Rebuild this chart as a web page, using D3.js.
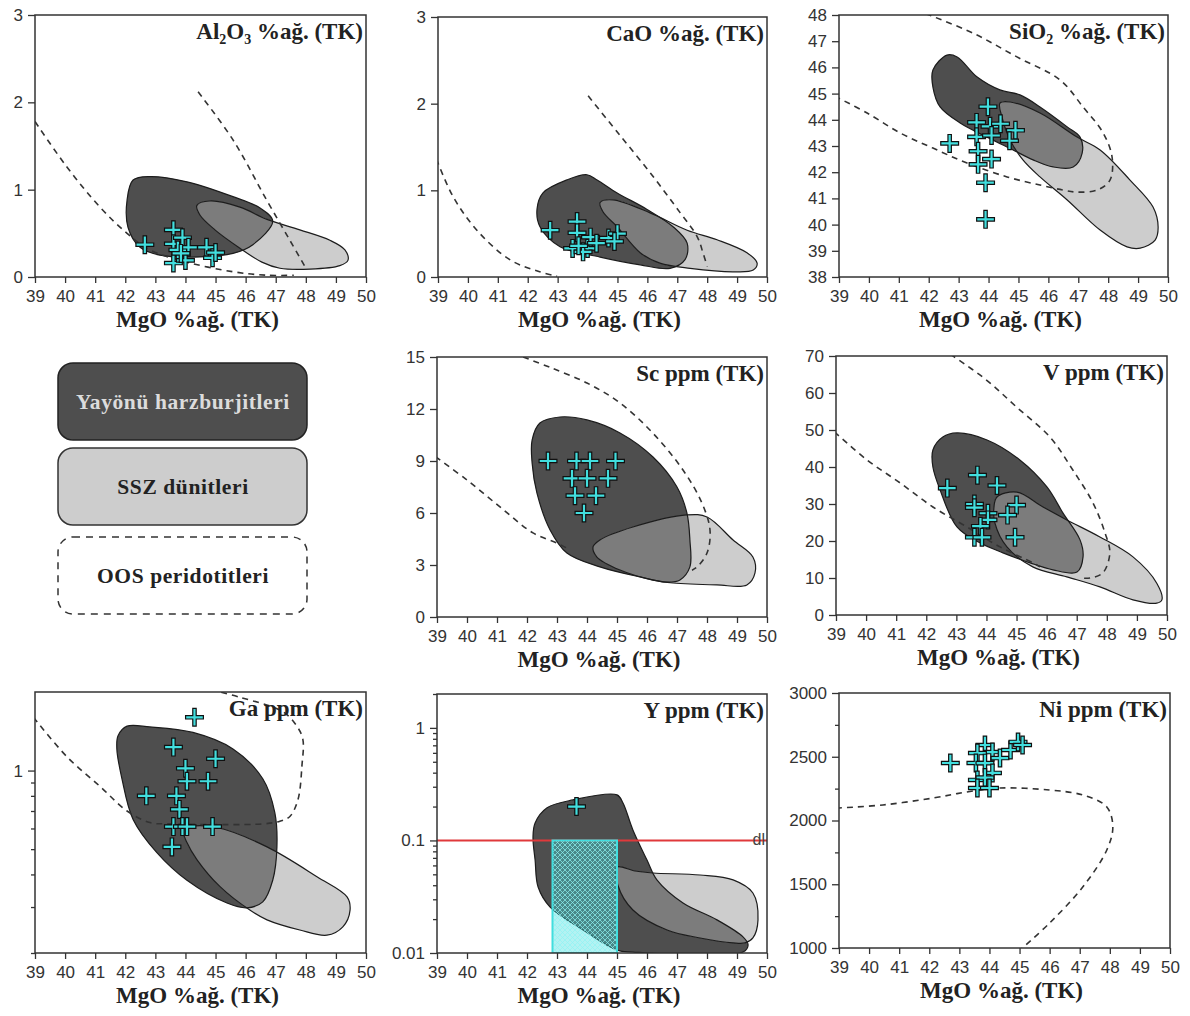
<!DOCTYPE html>
<html>
<head>
<meta charset="utf-8">
<script src="https://cdn.jsdelivr.net/npm/d3@7"></script>
<style>
  body { margin: 0; background: #fff; }
  svg { display: block; }
  .tick text { font-family: "Liberation Sans", Arial, sans-serif; font-size: 17px; fill: #333; }
  .tick line { stroke: #333; stroke-width: 1.3; }
  .ttl { font-family: "Liberation Serif", "Times New Roman", serif; font-weight: bold; font-size: 23px; fill: #222; }
  .leg { font-family: "Liberation Serif", "Times New Roman", serif; font-weight: bold; font-size: 21.5px; letter-spacing: 0.6px; }
</style>
</head>
<body>
<svg id="chart" width="1190" height="1016"></svg>
<script>
// --- DATA ---
const mgoTicks = d3.range(39, 51);

// sample points [MgO, value]
const al2o3Pts = [[42.65,0.37],[43.6,0.54],[43.6,0.38],[43.75,0.31],[43.9,0.45],[44.1,0.34],[43.6,0.16],[44.0,0.19],[44.7,0.34],[44.9,0.22],[45.0,0.28],[43.85,0.27]];
const caoPts = [[42.75,0.54],[43.65,0.64],[43.65,0.51],[43.5,0.33],[44.0,0.33],[44.1,0.46],[44.3,0.39],[44.7,0.45],[45.0,0.5],[44.9,0.41],[43.85,0.29],[43.7,0.36]];
const sio2Pts = [[42.7,43.1],[43.98,44.5],[43.6,43.9],[44.05,43.75],[44.4,43.85],[43.6,43.35],[44.1,43.4],[44.9,43.6],[44.7,43.2],[43.65,42.8],[44.1,42.5],[43.65,42.3],[43.9,41.6],[43.9,40.2]];
const scPts = [[42.7,9],[43.65,9],[44.1,9],[44.95,9],[43.5,8],[44.0,8],[44.7,8],[43.6,7],[44.3,7],[43.9,6]];
const vPts = [[42.7,34.3],[43.7,37.8],[44.35,35],[43.6,30],[43.6,29],[45.0,29.7],[44.7,27],[44.05,27.5],[44.05,25.7],[43.8,24],[43.6,21],[43.85,21],[44.95,21]];
const gaPts = [[44.3,1.60],[43.6,1.23],[45.0,1.11],[44.0,1.02],[44.05,0.91],[44.75,0.91],[42.7,0.80],[43.7,0.80],[43.8,0.71],[43.6,0.61],[43.9,0.61],[44.05,0.61],[44.9,0.61],[43.55,0.51]];
const yPts = [[43.65,0.2]];
const niPts = [[42.7,2451],[43.85,2592],[44.1,2537],[43.6,2529],[44.35,2490],[43.55,2451],[43.85,2450],[44.7,2553],[44.95,2616],[45.1,2592],[44.1,2373],[43.6,2318],[43.85,2337],[43.6,2255],[44.0,2255]];

// Yayönü harzburjitleri fields
const al2o3Harz = [[42.06,0.88],[42.26,1.11],[42.82,1.15],[44.05,1.09],[45.58,0.92],[46.48,0.79],[46.9,0.64],[46.24,0.37],[45.58,0.27],[44.48,0.23],[43.15,0.25],[42.49,0.34],[42.09,0.57]];
const caoHarz = [[42.31,0.78],[42.51,0.97],[43.31,1.12],[43.98,1.18],[44.32,1.12],[44.99,0.97],[45.99,0.78],[46.86,0.58],[47.33,0.39],[47.26,0.20],[46.76,0.10],[45.76,0.14],[44.42,0.23],[43.08,0.35],[42.41,0.58]];
const sio2Harz = [[42.14,45.9],[42.61,46.47],[42.95,46.4],[43.62,45.63],[44.38,45.14],[45.05,44.95],[45.72,44.49],[46.63,43.73],[47.06,43.34],[47.13,42.73],[46.83,42.2],[46.16,42.2],[45.49,42.47],[44.82,42.85],[43.95,43.34],[43.05,43.88],[42.38,44.49],[42.14,45.25]];
const scHarz = [[42.17,10.21],[42.43,11.19],[43.1,11.54],[44.0,11.37],[45.1,10.62],[46.2,9.23],[47.0,7.5],[47.33,6.0],[47.43,4.44],[47.43,2.89],[47.1,2.14],[46.67,2.02],[45.77,2.31],[44.43,2.89],[43.33,3.69],[42.77,5.02],[42.33,7.16],[42.17,8.89]];
const vHarz = [[42.22,44.6],[42.55,48.1],[43.02,49.2],[44.02,47.3],[45.11,41.9],[46.01,34.6],[46.54,27.6],[47.11,20.3],[47.21,15.7],[47.01,11.6],[46.21,12.2],[45.45,14.1],[44.55,16.8],[43.78,19.5],[43.02,23.8],[42.46,33.8],[42.22,40.0]];
const gaHarz = [[41.76,1.36],[42.06,1.48],[42.82,1.47],[44.25,1.40],[45.58,1.21],[46.57,0.93],[46.97,0.69],[47.04,0.51],[46.9,0.38],[46.57,0.314],[46.04,0.298],[45.38,0.311],[44.05,0.38],[43.05,0.485],[42.26,0.65],[41.89,0.93],[41.72,1.21]];
const yHarz = [[42.2,0.107],[42.27,0.143],[42.67,0.195],[43.53,0.229],[45.0,0.254],[45.2,0.215],[45.53,0.124],[46.0,0.067],[46.33,0.0446],[47.2,0.0278],[48.33,0.0197],[49.2,0.0139],[49.37,0.0118],[49.2,0.0102],[45.53,0.0102],[45.0,0.0106],[43.87,0.016],[42.77,0.0256],[42.37,0.0386],[42.27,0.067]];

// SSZ dünitleri fields
const al2o3Dun = [[44.38,0.82],[44.81,0.87],[45.81,0.80],[46.71,0.66],[47.8,0.54],[48.8,0.42],[49.3,0.31],[49.4,0.19],[49.13,0.13],[48.14,0.09],[47.14,0.10],[46.54,0.17],[45.81,0.33],[44.98,0.54],[44.48,0.71]];
const caoDun = [[44.42,0.86],[44.85,0.89],[46.09,0.74],[47.33,0.54],[48.33,0.43],[49.33,0.28],[49.67,0.16],[49.54,0.08],[48.87,0.06],[47.43,0.10],[46.42,0.16],[45.76,0.28],[44.99,0.58],[44.52,0.75]];
const sio2Dun = [[44.38,44.64],[44.72,44.68],[45.72,44.26],[46.96,43.34],[47.73,42.85],[48.73,41.7],[49.5,40.67],[49.67,39.91],[49.57,39.41],[49.07,39.1],[48.63,39.15],[47.73,39.79],[46.63,40.94],[45.72,41.82],[45.15,42.47],[44.72,43.23],[44.45,44.1]];
const scDun = [[44.2,4.04],[44.43,4.44],[45.53,5.19],[47.33,5.89],[48.0,5.77],[48.87,4.44],[49.53,3.46],[49.6,2.54],[49.33,1.85],[48.33,1.85],[46.87,1.96],[46.2,2.13],[45.1,2.71],[44.33,3.46]];
const vDun = [[44.35,31.9],[45.01,33.2],[45.88,29.2],[46.67,25.7],[47.77,21.1],[48.87,15.7],[49.66,8.6],[49.83,4.1],[49.66,3.2],[48.87,4.1],[47.77,7.6],[46.67,10.3],[45.54,13.0],[44.68,18.4],[44.28,24.9],[44.25,29.2]];
const gaDun = [[43.92,0.594],[44.15,0.61],[45.05,0.605],[46.71,0.51],[48.37,0.392],[49.37,0.328],[49.47,0.292],[49.23,0.252],[48.70,0.234],[47.80,0.245],[46.71,0.268],[46.14,0.292],[45.15,0.359],[44.38,0.456],[44.05,0.530]];
const yDun = [[45.0,0.058],[45.6,0.0535],[46.2,0.0514],[47.77,0.0493],[48.87,0.0446],[49.53,0.0341],[49.7,0.0197],[49.53,0.0136],[49.27,0.0123],[48.87,0.0123],[47.77,0.0136],[46.67,0.016],[45.53,0.0241],[45.03,0.040]];

// OOS peridotitleri (dashed) outlines
const al2o3Oos = [
  [[39,1.78],[40.06,1.26],[41.16,0.80],[42.06,0.50],[42.82,0.31],[44.05,0.17],[45.58,0.06],[46.7,0.02],[47.6,0.02]],
  [[44.42,2.12],[45.58,1.57],[46.7,0.88],[47.47,0.42],[47.97,0.12]]
];
const caoOos = [
  [[38.95,1.36],[39.5,0.93],[40.3,0.54],[41.4,0.20],[42.4,0.06],[42.98,0.01]],
  [[44.02,2.09],[45.0,1.67],[46.1,1.2],[47.1,0.74],[47.66,0.47],[47.86,0.28],[48.0,0.12]]
];
const sio2Oos = [
  [[41.9,48.05],[43.48,47.31],[44.95,46.4],[46.39,45.52],[47.16,44.49],[47.83,43.5],[48.13,42.58],[48.06,41.7],[47.63,41.32],[46.96,41.24],[46.49,41.32],[45.72,41.51],[44.62,41.82],[43.28,42.35],[42.14,42.92],[41.04,43.5],[39.94,44.26],[38.95,44.85]]
];
const scOos = [
  [[41.87,15.0],[42.77,14.4],[44.0,13.5],[45.1,12.35],[46.2,10.6],[47.2,8.48],[47.83,6.58],[48.1,5.02],[48.0,3.69],[47.67,2.89],[47.5,2.7]],
  [[38.95,9.25],[40.0,7.9],[41.1,6.35],[42.2,4.85],[43.0,4.27],[43.3,4.0]]
];
const vOos = [
  [[42.8,70.5],[44.0,63.5],[45.0,56.2],[46.11,48.1],[46.87,39.2],[47.54,30.3],[47.94,22.2],[48.1,16.8],[47.87,11.4],[47.44,10.0],[47.1,10.0]],
  [[38.95,49.5],[40.03,41.9],[41.13,35.7],[42.22,29.2],[43.35,23.8],[44.45,18.4],[45.54,14.1],[45.78,13.0]]
];
const gaOos = [
  [[38.95,1.6],[40.06,1.13],[41.16,0.87],[42.06,0.70],[42.82,0.632],[43.5,0.625],[46.6,0.625],[47.14,0.64],[47.47,0.667],[47.74,0.775],[47.87,1.04],[47.9,1.32],[47.7,1.48],[47.24,1.68],[45.8,1.91],[45.0,2.02]]
];
const niOos = [
  [[38.9,2097],[40.46,2122],[42.12,2176],[43.25,2224],[44.35,2255],[46.0,2239],[47.1,2200],[47.9,2106],[48.1,1949],[47.9,1769],[47.1,1478],[46.0,1196],[45.0,980]]
];

// Y panel extras
const yDetectionLimit = 0.1;
const yBoxMgO = [42.85, 45.0];
const yBoxVal = [0.01, 0.1];

// tick lists
const al2o3Ticks = [0, 1, 2, 3];
const sio2Ticks = d3.range(38, 49);
const scTicks = [0, 3, 6, 9, 12, 15];
const vTicks = [0, 10, 20, 30, 40, 50, 60, 70];
const gaTicks = [0.2, 0.3, 0.4, 0.5, 0.6, 0.7, 0.8, 0.9, 1];
const gaLabels = [1];
const yTicks = [0.01,0.02,0.03,0.04,0.05,0.06,0.07,0.08,0.09,0.1,0.2,0.3,0.4,0.5,0.6,0.7,0.8,0.9,1,2];
const yLabels = [0.01, 0.1, 1];
const niTicks = d3.range(1000, 3001, 250);
const niLabels = [1000, 1500, 2000, 2500, 3000];

const legendLabels = ["Yayönü harzburjitleri", "SSZ dünitleri", "OOS peridotitleri"];

// --- SETUP ---
const DARK = "#4e4e4e", LIGHT = "#cdcdcd", MID = "#7c7c7c", CYAN = "#42dede";
const svg = d3.select("#chart");
const defs = svg.append("defs");

const hatch = defs.append("pattern").attr("id", "hatch")
  .attr("width", 5).attr("height", 5).attr("patternUnits", "userSpaceOnUse");
hatch.append("rect").attr("width", 5).attr("height", 5).attr("fill", CYAN).attr("fill-opacity", 0.4);
hatch.append("path").attr("d", "M0,0L5,5M5,0L0,5").attr("stroke", "#8ff4f4").attr("stroke-width", 0.7);

const panels = [
  { key: "al", box: [35, 15, 366, 277], yDomain: [0, 3], yTicks: al2o3Ticks, yLabels: al2o3Ticks,
    title: [["Al"], ["2", 1], ["O"], ["3", 1], [" %ağ. (TK)"]], harz: al2o3Harz, dun: al2o3Dun, oos: al2o3Oos, pts: al2o3Pts },
  { key: "ca", box: [438, 17, 767, 277], yDomain: [0, 3], yTicks: al2o3Ticks, yLabels: al2o3Ticks,
    title: [["CaO %ağ. (TK)"]], harz: caoHarz, dun: caoDun, oos: caoOos, pts: caoPts },
  { key: "si", box: [839, 15, 1168, 277], yDomain: [38, 48], yTicks: sio2Ticks, yLabels: sio2Ticks,
    title: [["SiO"], ["2", 1], [" %ağ. (TK)"]], harz: sio2Harz, dun: sio2Dun, oos: sio2Oos, pts: sio2Pts },
  { key: "sc", box: [437, 357, 767, 617], yDomain: [0, 15], yTicks: scTicks, yLabels: scTicks,
    title: [["Sc ppm (TK)"]], harz: scHarz, dun: scDun, oos: scOos, pts: scPts },
  { key: "v", box: [836, 356, 1167, 615], yDomain: [0, 70], yTicks: vTicks, yLabels: vTicks,
    title: [["V ppm (TK)"]], harz: vHarz, dun: vDun, oos: vOos, pts: vPts },
  { key: "ga", box: [35, 692, 366, 953], yDomain: [0.2, 2], log: true, yTicks: gaTicks, yLabels: gaLabels,
    title: [["Ga ppm (TK)"]], harz: gaHarz, dun: gaDun, oos: gaOos, pts: gaPts },
  { key: "y", box: [437, 694, 767, 953], yDomain: [0.01, 2], log: true, yTicks: yTicks, yLabels: yLabels,
    title: [["Y ppm (TK)"]], harz: yHarz, dun: yDun, oos: [], pts: yPts, extra: true },
  { key: "ni", box: [839, 693, 1170, 948], yDomain: [1000, 3000], yTicks: niTicks, yLabels: niLabels,
    title: [["Ni ppm (TK)"]], harz: null, dun: null, oos: niOos, pts: niPts }
];

function drawPanel(p) {
  const [x0, y0, x1, y1] = p.box;
  const g = svg.append("g");
  const x = d3.scaleLinear().domain([39, 50]).range([x0, x1]);
  const y = (p.log ? d3.scaleLog() : d3.scaleLinear()).domain(p.yDomain).range([y1, y0]);

  defs.append("clipPath").attr("id", "clip-" + p.key)
    .append("rect").attr("x", x0).attr("y", y0).attr("width", x1 - x0).attr("height", y1 - y0);
  const plot = g.append("g").attr("clip-path", `url(#clip-${p.key})`);

  const closed = d3.line().x(d => x(d[0])).y(d => y(d[1])).curve(d3.curveCatmullRomClosed.alpha(0.5));
  const open = d3.line().x(d => x(d[0])).y(d => y(d[1])).curve(d3.curveCatmullRom.alpha(0.5));

  // fields
  if (p.harz) {
    plot.append("path").attr("d", closed(p.harz)).attr("fill", DARK);
    plot.append("path").attr("d", closed(p.dun)).attr("fill", LIGHT);
    defs.append("clipPath").attr("id", "ov-" + p.key).append("path").attr("d", closed(p.harz));
    plot.append("g").attr("clip-path", `url(#ov-${p.key})`)
      .append("path").attr("d", closed(p.dun)).attr("fill", MID);
    plot.append("path").attr("d", closed(p.harz)).attr("fill", "none").attr("stroke", "#1c1c1c").attr("stroke-width", 1.2);
    plot.append("path").attr("d", closed(p.dun)).attr("fill", "none").attr("stroke", "#1c1c1c").attr("stroke-width", 1.2);
  }

  // OOS dashed
  p.oos.forEach(c => {
    plot.append("path").attr("d", open(c)).attr("fill", "none")
      .attr("stroke", "#333").attr("stroke-width", 1.6).attr("stroke-dasharray", "6,5");
  });

  // Y panel: detection limit and box
  if (p.extra) {
    plot.append("line").attr("x1", x0).attr("x2", x1)
      .attr("y1", y(yDetectionLimit)).attr("y2", y(yDetectionLimit))
      .attr("stroke", "#e0393b").attr("stroke-width", 2);
    plot.append("rect")
      .attr("x", x(yBoxMgO[0])).attr("width", x(yBoxMgO[1]) - x(yBoxMgO[0]))
      .attr("y", y(yBoxVal[1])).attr("height", y(yBoxVal[0]) - y(yBoxVal[1]))
      .attr("fill", "url(#hatch)").attr("stroke", CYAN).attr("stroke-width", 2);
    g.append("text").attr("x", x1 - 2).attr("y", y(yDetectionLimit) + 5).attr("text-anchor", "end")
      .style("font-family", "Liberation Sans, Arial, sans-serif").style("font-size", "16px").attr("fill", "#444")
      .text("dl");
  }

  // sample crosses
  const m = g.selectAll(".pt").data(p.pts).join("g")
    .attr("transform", d => `translate(${x(d[0])},${y(d[1])})`);
  m.append("path").attr("d", "M-9.5,0H9.5M0,-9.5V9.5").attr("stroke", "#111").attr("stroke-width", 4.6);
  m.append("path").attr("d", "M-8.3,0H8.3M0,-8.3V8.3").attr("stroke", CYAN).attr("stroke-width", 2.2);

  // frame
  g.append("rect").attr("x", x0).attr("y", y0).attr("width", x1 - x0).attr("height", y1 - y0)
    .attr("fill", "none").attr("stroke", "#333").attr("stroke-width", 1.5);

  // axes
  g.append("g").attr("transform", `translate(0,${y1})`)
    .call(d3.axisBottom(x).tickValues(mgoTicks).tickSize(6).tickPadding(7).tickFormat(d3.format("d")))
    .call(a => a.select(".domain").remove());

  const isMajor = d => p.yLabels.includes(d);
  g.append("g").attr("transform", `translate(${x0},0)`)
    .call(d3.axisLeft(y).tickValues(p.yTicks).tickSize(7).tickPadding(5)
      .tickFormat(d => isMajor(d) ? String(d) : ""))
    .call(a => a.select(".domain").remove())
    .call(a => a.selectAll(".tick line").attr("x2", d => isMajor(d) ? -7 : -4));

  // panel title
  const t = g.append("text").attr("class", "ttl").attr("text-anchor", "end")
    .attr("x", x1 - 3).attr("y", y0 + 24);
  let inSub = false;
  p.title.forEach(([s, sub]) => {
    const ts = t.append("tspan").text(s);
    if (sub) ts.style("font-size", "14px");
    if (sub && !inSub) ts.attr("dy", 5);
    if (!sub && inSub) ts.attr("dy", -5);
    inSub = !!sub;
  });

  // x axis title
  g.append("text").attr("class", "ttl").attr("text-anchor", "middle")
    .attr("x", (x0 + x1) / 2 - 3).attr("y", y1 + 50).text("MgO %ağ. (TK)");
}

panels.forEach(drawPanel);

// --- LEGEND ---
const legendBoxes = [
  { y: 363, fill: DARK, stroke: "#222", dash: null, text: "#dcdcdc" },
  { y: 448, fill: LIGHT, stroke: "#333", dash: null, text: "#222" },
  { y: 537, fill: "none", stroke: "#333", dash: "7,6", text: "#222" }
];
const legend = svg.append("g");
legendBoxes.forEach((b, i) => {
  legend.append("rect").attr("x", 58).attr("y", b.y).attr("width", 249).attr("height", 77)
    .attr("rx", 15).attr("ry", 15)
    .attr("fill", b.fill).attr("stroke", b.stroke).attr("stroke-width", 1.5)
    .attr("stroke-dasharray", b.dash);
  legend.append("text").attr("class", "leg").attr("x", 183).attr("y", b.y + 46)
    .attr("text-anchor", "middle").attr("fill", b.text).text(legendLabels[i]);
});
</script>
</body>
</html>
